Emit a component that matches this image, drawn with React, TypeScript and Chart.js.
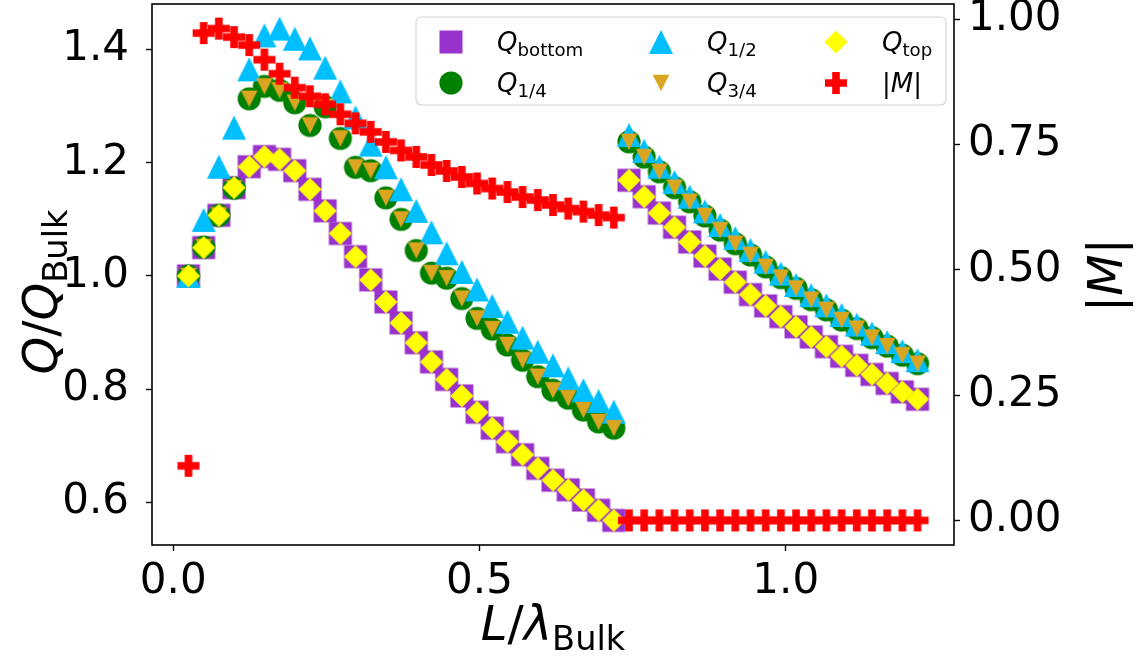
import React, { useEffect, useRef } from 'react';
import { Chart, registerables } from 'chart.js';

Chart.register(...registerables);

// ---------------- data ----------------
const L = [
  0.0248, 0.0496, 0.0744, 0.0992, 0.124, 0.1488, 0.1736, 0.1984, 0.2232, 0.248,
  0.2728, 0.2976, 0.3224, 0.3472, 0.372, 0.3968, 0.4216, 0.4464, 0.4712, 0.496,
  0.5208, 0.5456, 0.5704, 0.5952, 0.62, 0.6448, 0.6696, 0.6944, 0.7192, 0.744,
  0.7688, 0.7936, 0.8184, 0.8432, 0.868, 0.8928, 0.9176, 0.9424, 0.9672, 0.992,
  1.0168, 1.0416, 1.0664, 1.0912, 1.116, 1.1408, 1.1656, 1.1904, 1.2152,
];

const qBottom = [
  1.0, 1.05, 1.107, 1.156, 1.193, 1.211, 1.206, 1.186, 1.153, 1.115,
  1.075, 1.034, 0.993, 0.954, 0.917, 0.882, 0.848, 0.817, 0.788, 0.759,
  0.731, 0.707, 0.684, 0.66, 0.639, 0.622, 0.604, 0.586, 0.568, 1.169,
  1.14, 1.111, 1.086, 1.06, 1.035, 1.012, 0.989, 0.967, 0.947, 0.928,
  0.91, 0.892, 0.875, 0.858, 0.842, 0.826, 0.81, 0.795, 0.782,
];

const qQuarter = [
  1.0, 1.051, 1.107, 1.155, 1.313, 1.335, 1.328, 1.306, 1.266, 1.299,
  1.243, 1.192, 1.186, 1.138, 1.1, 1.045, 1.005, 0.996, 0.96, 0.925,
  0.906, 0.878, 0.851, 0.822, 0.798, 0.784, 0.763, 0.742, 0.731, 1.237,
  1.21, 1.184, 1.156, 1.131, 1.106, 1.081, 1.057, 1.037, 1.016, 0.997,
  0.978, 0.958, 0.94, 0.922, 0.907, 0.891, 0.876, 0.86, 0.845,
];

const qHalf = [
  1.0, 1.099, 1.193, 1.262, 1.365, 1.425, 1.437, 1.419, 1.402, 1.368,
  1.326, 1.28, 1.232, 1.192, 1.153, 1.115, 1.077, 1.04, 1.007, 0.976,
  0.947, 0.919, 0.891, 0.866, 0.842, 0.819, 0.798, 0.779, 0.76, 1.249,
  1.221, 1.193, 1.166, 1.14, 1.114, 1.09, 1.067, 1.046, 1.025, 1.004,
  0.984, 0.966, 0.948, 0.931, 0.914, 0.898, 0.883, 0.867, 0.851,
];

const qThreeQuarter = [
  1.0, 1.051, 1.107, 1.155, 1.313, 1.335, 1.328, 1.306, 1.266, 1.299,
  1.243, 1.192, 1.186, 1.138, 1.1, 1.045, 1.005, 0.996, 0.96, 0.925,
  0.906, 0.878, 0.851, 0.822, 0.798, 0.784, 0.763, 0.742, 0.731, 1.237,
  1.21, 1.184, 1.156, 1.131, 1.106, 1.081, 1.057, 1.037, 1.016, 0.997,
  0.978, 0.958, 0.94, 0.922, 0.907, 0.891, 0.876, 0.86, 0.845,
];

const qTop = [
  1.0, 1.05, 1.107, 1.156, 1.193, 1.211, 1.206, 1.186, 1.153, 1.115,
  1.075, 1.034, 0.993, 0.954, 0.917, 0.882, 0.848, 0.817, 0.788, 0.759,
  0.731, 0.707, 0.684, 0.66, 0.639, 0.622, 0.604, 0.586, 0.568, 1.169,
  1.14, 1.111, 1.086, 1.06, 1.035, 1.012, 0.989, 0.967, 0.947, 0.928,
  0.91, 0.892, 0.875, 0.858, 0.842, 0.826, 0.81, 0.795, 0.782,
];

const magM = [
  0.109, 0.972, 0.981, 0.964, 0.948, 0.919, 0.891, 0.863, 0.846, 0.83,
  0.81, 0.792, 0.775, 0.755, 0.738, 0.725, 0.709, 0.697, 0.685, 0.672,
  0.662, 0.655, 0.645, 0.639, 0.629, 0.622, 0.616, 0.609, 0.604, 0.0,
  0.0, 0.0, 0.0, 0.0, 0.0, 0.0, 0.0, 0.0, 0.0, 0.0,
  0.0, 0.0, 0.0, 0.0, 0.0, 0.0, 0.0, 0.0, 0.0,
];

const xTicks = [0.0, 0.5, 1.0];
const xTickLabels = ['0.0', '0.5', '1.0'];
const yTicks = [0.6, 0.8, 1.0, 1.2, 1.4];
const yTickLabels = ['0.6', '0.8', '1.0', '1.2', '1.4'];
const y2Ticks = [0.0, 0.25, 0.5, 0.75, 1.0];
const y2TickLabels = ['0.00', '0.25', '0.50', '0.75', '1.00'];

const xLimits = [-0.0347, 1.2747];
const yLimits = [0.5245, 1.4805];
const y2Limits = [-0.049, 1.03];

// ---------------- styles ----------------
const FONT = '"DejaVu Sans", "Liberation Sans", sans-serif';
const PURPLE = '#9932CC';
const GREEN = '#008000';
const BLUE = '#00BFFF';
const GOLD = '#DAA520';
const YELLOW = '#FFFF00';
const RED = '#FF0000';

type Painter = (c: CanvasRenderingContext2D, x: number, y: number) => void;

const paintSquare: Painter = (c, x, y) => {
  c.fillStyle = PURPLE;
  c.fillRect(x - 11.5, y - 11.5, 23, 23);
};
const paintCircle: Painter = (c, x, y) => {
  c.fillStyle = GREEN;
  c.beginPath();
  c.arc(x, y, 11.6, 0, Math.PI * 2);
  c.fill();
};
const paintTriUp: Painter = (c, x, y) => {
  c.fillStyle = BLUE;
  c.beginPath();
  c.moveTo(x, y - 12);
  c.lineTo(x - 12, y + 12);
  c.lineTo(x + 12, y + 12);
  c.closePath();
  c.fill();
};
const paintTriDown: Painter = (c, x, y) => {
  c.fillStyle = GOLD;
  c.beginPath();
  c.moveTo(x - 8.3, y - 8.3);
  c.lineTo(x + 8.3, y - 8.3);
  c.lineTo(x, y + 8.3);
  c.closePath();
  c.fill();
};
const paintDiamond: Painter = (c, x, y) => {
  c.fillStyle = YELLOW;
  c.beginPath();
  c.moveTo(x, y - 11.6);
  c.lineTo(x + 11.6, y);
  c.lineTo(x, y + 11.6);
  c.lineTo(x - 11.6, y);
  c.closePath();
  c.fill();
};
const paintPlus: Painter = (c, x, y) => {
  const a = 11;
  const t = 3.8;
  c.fillStyle = RED;
  c.beginPath();
  c.moveTo(x - t, y - a);
  c.lineTo(x + t, y - a);
  c.lineTo(x + t, y - t);
  c.lineTo(x + a, y - t);
  c.lineTo(x + a, y + t);
  c.lineTo(x + t, y + t);
  c.lineTo(x + t, y + a);
  c.lineTo(x - t, y + a);
  c.lineTo(x - t, y + t);
  c.lineTo(x - a, y + t);
  c.lineTo(x - a, y - t);
  c.lineTo(x - t, y - t);
  c.closePath();
  c.fill();
};

function makeMarker(p: Painter): HTMLCanvasElement {
  const size = 28;
  const cv = document.createElement('canvas');
  cv.width = size;
  cv.height = size;
  const c = cv.getContext('2d') as CanvasRenderingContext2D;
  p(c, size / 2, size / 2);
  return cv;
}

type Part = { t: string; it?: boolean; sub?: boolean };

function drawMath(c: CanvasRenderingContext2D, parts: Part[], size: number, align: 'left' | 'center') {
  const subSize = size * 0.7;
  const fontOf = (p: Part) => `${p.it ? 'italic ' : ''}${p.sub ? subSize : size}px ${FONT}`;
  let total = 0;
  const widths = parts.map((p) => {
    c.font = fontOf(p);
    const w = c.measureText(p.t).width;
    total += w;
    return w;
  });
  let x = align === 'center' ? -total / 2 : 0;
  c.textBaseline = 'alphabetic';
  c.textAlign = 'left';
  c.fillStyle = '#000';
  parts.forEach((p, i) => {
    c.font = fontOf(p);
    c.fillText(p.t, x, p.sub ? size * 0.21 : 0);
    x += widths[i];
  });
}

const legendEntries: { painter: Painter; parts: Part[]; x: number; y: number }[] = [
  { painter: paintSquare, parts: [{ t: 'Q', it: true }, { t: 'bottom', sub: true }], x: 451, y: 42 },
  { painter: paintCircle, parts: [{ t: 'Q', it: true }, { t: '1/4', sub: true }], x: 451, y: 83 },
  { painter: paintTriUp, parts: [{ t: 'Q', it: true }, { t: '1/2', sub: true }], x: 661, y: 42 },
  { painter: paintTriDown, parts: [{ t: 'Q', it: true }, { t: '3/4', sub: true }], x: 661, y: 83 },
  { painter: paintDiamond, parts: [{ t: 'Q', it: true }, { t: 'top', sub: true }], x: 836, y: 42 },
  { painter: paintPlus, parts: [{ t: '|' }, { t: 'M', it: true }, { t: '|' }], x: 836, y: 83 },
];

const overlayPlugin = {
  id: 'overlay',
  afterDatasetsDraw(chart: any) {
    const c: CanvasRenderingContext2D = chart.ctx;
    const a = chart.chartArea;
    c.save();
    // spines
    c.strokeStyle = '#000';
    c.lineWidth = 1.6;
    c.strokeRect(a.left, a.top, a.right - a.left, a.bottom - a.top);

    // legend box
    const bx = 416, by = 17, bw = 530, bh = 88, r = 6;
    c.beginPath();
    c.moveTo(bx + r, by);
    c.lineTo(bx + bw - r, by);
    c.quadraticCurveTo(bx + bw, by, bx + bw, by + r);
    c.lineTo(bx + bw, by + bh - r);
    c.quadraticCurveTo(bx + bw, by + bh, bx + bw - r, by + bh);
    c.lineTo(bx + r, by + bh);
    c.quadraticCurveTo(bx, by + bh, bx, by + bh - r);
    c.lineTo(bx, by + r);
    c.quadraticCurveTo(bx, by, bx + r, by);
    c.closePath();
    c.fillStyle = 'rgba(255,255,255,0.8)';
    c.fill();
    c.strokeStyle = '#d6d6d6';
    c.lineWidth = 1.2;
    c.stroke();

    legendEntries.forEach((e) => {
      e.painter(c, e.x, e.y);
      c.save();
      c.translate(e.x + 46, e.y + 9);
      drawMath(c, e.parts, 26, 'left');
      c.restore();
    });

    // axis titles
    c.save();
    c.translate(553, 640);
    drawMath(c, [{ t: 'L', it: true }, { t: '/' }, { t: 'λ', it: true }, { t: 'Bulk', sub: true }], 48, 'center');
    c.restore();

    c.save();
    c.translate(57, 292);
    c.rotate(-Math.PI / 2);
    drawMath(c, [{ t: 'Q', it: true }, { t: '/' }, { t: 'Q', it: true }, { t: 'Bulk', sub: true }], 48, 'center');
    c.restore();

    c.save();
    c.translate(1122, 275);
    c.rotate(-Math.PI / 2);
    drawMath(c, [{ t: '|' }, { t: 'M', it: true }, { t: '|' }], 48, 'center');
    c.restore();

    c.restore();
  },
};

export default function App() {
  const ref = useRef<HTMLCanvasElement | null>(null);

  useEffect(() => {
    if (!ref.current) return;
    const mSquare = makeMarker(paintSquare);
    const mCircle = makeMarker(paintCircle);
    const mTriUp = makeMarker(paintTriUp);
    const mTriDown = makeMarker(paintTriDown);
    const mDiamond = makeMarker(paintDiamond);
    const mPlus = makeMarker(paintPlus);

    const pts = (ys: number[]) => L.map((x, i) => ({ x, y: ys[i] }));
    const ds = (label: string, ys: number[], style: HTMLCanvasElement, order: number, axis: string) => ({
      label,
      data: pts(ys),
      pointStyle: style,
      pointRadius: 12,
      pointHoverRadius: 12,
      showLine: false,
      order,
      yAxisID: axis,
    });

    const tickFont = { family: FONT, size: 42 };
    const gridCfg = {
      drawOnChartArea: false,
      drawTicks: true,
      tickLength: 6,
      tickColor: '#000',
      tickWidth: 1.4,
      color: '#000',
    };
    const fixV = (w: number) => (s: any) => {
      s.width = w;
      s.paddingTop = 0;
      s.paddingBottom = 0;
    };
    const fixH = (h: number) => (s: any) => {
      s.height = h;
      s.paddingLeft = 0;
      s.paddingRight = 0;
    };

    const chart = new Chart(ref.current, {
      type: 'scatter',
      data: {
        datasets: [
          ds('Q_bottom', qBottom, mSquare, 6, 'y'),
          ds('Q_1/4', qQuarter, mCircle, 5, 'y'),
          ds('Q_1/2', qHalf, mTriUp, 4, 'y'),
          ds('Q_3/4', qThreeQuarter, mTriDown, 3, 'y'),
          ds('Q_top', qTop, mDiamond, 2, 'y'),
          ds('|M|', magM, mPlus, 1, 'y2'),
        ] as any,
      },
      options: {
        responsive: false,
        animation: false,
        events: [],
        layout: { autoPadding: false, padding: { top: 4, left: 0, right: 0, bottom: 0 } },
        plugins: {
          legend: { display: false },
          tooltip: { enabled: false },
        },
        scales: {
          x: {
            type: 'linear',
            min: xLimits[0],
            max: xLimits[1],
            afterFit: fixH(115),
            afterBuildTicks: (s: any) => { s.ticks = xTicks.map((value) => ({ value })); },
            ticks: {
              font: tickFont,
              color: '#000',
              padding: 6,
              maxRotation: 0,
              callback: (v: any) => xTickLabels[xTicks.indexOf(v)] ?? '',
            },
            grid: gridCfg,
            border: { display: false },
          },
          y: {
            type: 'linear',
            position: 'left',
            min: yLimits[0],
            max: yLimits[1],
            afterFit: fixV(152),
            afterBuildTicks: (s: any) => { s.ticks = yTicks.map((value) => ({ value })); },
            ticks: {
              font: tickFont,
              color: '#000',
              padding: 17,
              callback: (v: any) => yTickLabels[yTicks.indexOf(v)] ?? '',
            },
            grid: gridCfg,
            border: { display: false },
          },
          y2: {
            type: 'linear',
            position: 'right',
            min: y2Limits[0],
            max: y2Limits[1],
            afterFit: fixV(187),
            afterBuildTicks: (s: any) => { s.ticks = y2Ticks.map((value) => ({ value })); },
            ticks: {
              font: tickFont,
              color: '#000',
              padding: 8,
              callback: (v: any) => y2TickLabels[y2Ticks.indexOf(v)] ?? '',
            },
            grid: gridCfg,
            border: { display: false },
          },
        },
      } as any,
      plugins: [overlayPlugin],
    });
    return () => chart.destroy();
  }, []);

  return (
    <div style={{ position: 'fixed', left: 0, top: 0, width: 1141, height: 660, background: '#fff' }}>
      <canvas ref={ref} width={1141} height={660} style={{ display: 'block', width: 1141, height: 660 }} />
    </div>
  );
}
